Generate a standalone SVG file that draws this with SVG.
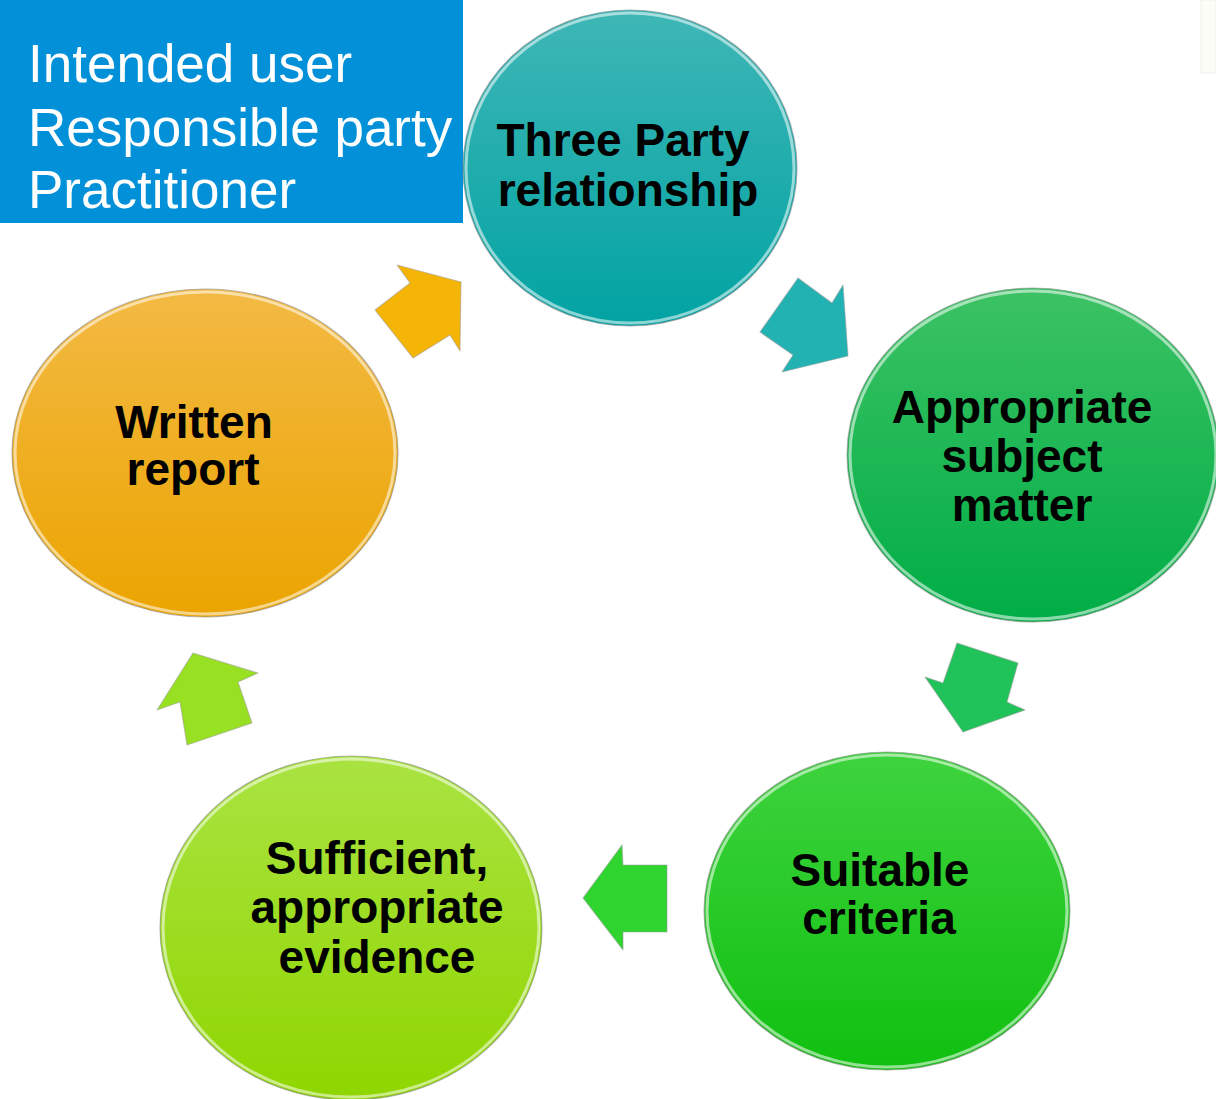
<svg xmlns="http://www.w3.org/2000/svg" width="1216" height="1099" viewBox="0 0 1216 1099">
<style>
.lbl{font-family:"Liberation Sans",Arial,sans-serif;font-weight:bold;font-size:46px;fill:#000;text-anchor:middle}
.box{font-family:"Liberation Sans",Arial,sans-serif;font-size:53px;fill:#fff}
.rim{fill:none;stroke:#ffffff;stroke-opacity:0.55;stroke-width:3}
.edge{stroke:#8a8a8a;stroke-opacity:0.6;stroke-width:1.2}
.arr{stroke:#9a9a9a;stroke-opacity:0.5;stroke-width:1.2;stroke-linejoin:round}
</style>
<defs>
<linearGradient id="gTeal" x1="0" y1="0" x2="0" y2="1"><stop offset="0" stop-color="#3fb6b6"/><stop offset="1" stop-color="#02a3a3"/></linearGradient>
<linearGradient id="gGreen" x1="0" y1="0" x2="0" y2="1"><stop offset="0" stop-color="#3cc264"/><stop offset="1" stop-color="#00ad46"/></linearGradient>
<linearGradient id="gBright" x1="0" y1="0" x2="0" y2="1"><stop offset="0" stop-color="#3ed33e"/><stop offset="1" stop-color="#10c010"/></linearGradient>
<linearGradient id="gLime" x1="0" y1="0" x2="0" y2="1"><stop offset="0" stop-color="#aae342"/><stop offset="1" stop-color="#8fd600"/></linearGradient>
<linearGradient id="gOrange" x1="0" y1="0" x2="0" y2="1"><stop offset="0" stop-color="#f3ba44"/><stop offset="1" stop-color="#eba400"/></linearGradient>
</defs>
<rect x="0" y="0" width="1216" height="1099" fill="#ffffff"/>
<rect x="1201" y="0" width="15" height="73" fill="#fcfdf6" stroke="#efefef" stroke-width="1"/>

<g id="info-box">
<rect x="0" y="0" width="463" height="223" fill="#0291d9"/>
<text class="box" x="28" y="82">Intended user</text>
<text class="box" x="28" y="146">Responsible party</text>
<text class="box" x="28" y="208">Practitioner</text>
</g>

<g id="connectors">
<polygon class="arr" fill="#f5b506" points="397,265 461,282 460,351 450,335 413,358 375,310 410,283"/>
<polygon class="arr" fill="#22b2b2" points="798,278 832,303 843,285 848,356 782,372 793,355 760,332"/>
<polygon class="arr" fill="#20c25a" points="957,643 1018,663 1007,702 1025,710 963,732 925,677 943,683"/>
<polygon class="arr" fill="#2fd42f" points="622,845 623,865 667,865 667,932 623,932 623,950 583,898"/>
<polygon class="arr" fill="#98e022" points="193,653 258,673 238,682 252,723 187,745 180,702 157,710"/>
</g>

<g id="node-three-party">
<ellipse class="edge" cx="630" cy="168" rx="167" ry="158" fill="url(#gTeal)"/>
<ellipse class="rim" cx="630" cy="168" rx="164" ry="155"/>
<text class="lbl" x="623" y="156">Three Party</text>
<text class="lbl" x="628" y="206">relationship</text>
</g>

<g id="node-subject-matter">
<ellipse class="edge" cx="1033" cy="455" rx="186" ry="167" fill="url(#gGreen)"/>
<ellipse class="rim" cx="1033" cy="455" rx="183" ry="164"/>
<text class="lbl" x="1022" y="423">Appropriate</text>
<text class="lbl" x="1022" y="472">subject</text>
<text class="lbl" x="1022" y="521">matter</text>
</g>

<g id="node-criteria">
<ellipse class="edge" cx="887" cy="911" rx="183" ry="159" fill="url(#gBright)"/>
<ellipse class="rim" cx="887" cy="911" rx="180" ry="156"/>
<text class="lbl" x="880" y="886">Suitable</text>
<text class="lbl" x="879" y="934">criteria</text>
</g>

<g id="node-evidence">
<ellipse class="edge" cx="351" cy="928" rx="191" ry="172" fill="url(#gLime)"/>
<ellipse class="rim" cx="351" cy="928" rx="188" ry="169"/>
<text class="lbl" x="377" y="874">Sufficient,</text>
<text class="lbl" x="377" y="923">appropriate</text>
<text class="lbl" x="377" y="973">evidence</text>
</g>

<g id="node-written-report">
<ellipse class="edge" cx="205" cy="453" rx="193" ry="164" fill="url(#gOrange)"/>
<ellipse class="rim" cx="205" cy="453" rx="190" ry="161"/>
<text class="lbl" x="194" y="438">Written</text>
<text class="lbl" x="193" y="485">report</text>
</g>
</svg>
